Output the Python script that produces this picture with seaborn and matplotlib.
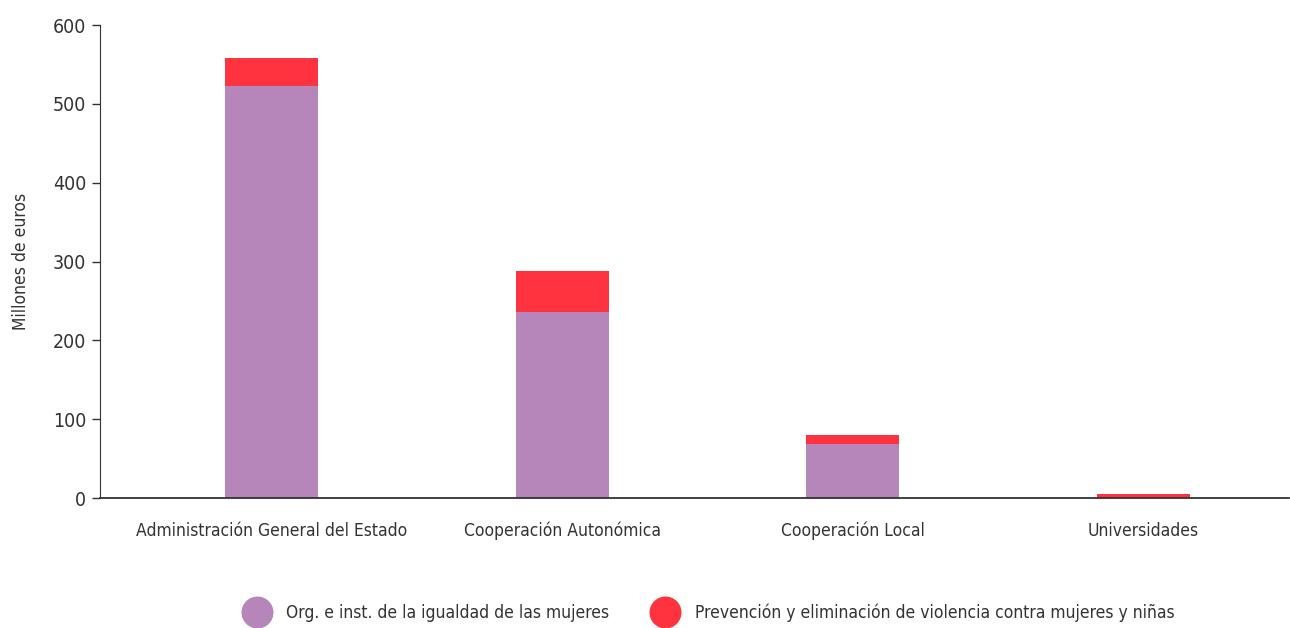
import pandas as pd
import numpy as np
import matplotlib.pyplot as plt
import seaborn as sns
from matplotlib.lines import Line2D

categorias = ["Administración General del Estado", "Cooperación Autonómica",
              "Cooperación Local", "Universidades"]
igualdad = [523, 236, 69, 0.5]
violencia = [35, 52, 11, 5]

series = ["Org. e inst. de la igualdad de las mujeres",
          "Prevención y eliminación de violencia contra mujeres y niñas"]
colores = ["#B685BA", "#FF323F"]

df = pd.DataFrame({
    "Categoria": categorias,
    "Igualdad": igualdad,
    "Violencia": violencia,
})
df["Total"] = df["Igualdad"] + df["Violencia"]

sns.set_style("white")
plt.rcParams["font.family"] = ["DejaVu Sans"]
plt.rcParams["font.stretch"] = "condensed"
plt.rcParams["text.color"] = "#333333"
plt.rcParams["axes.labelcolor"] = "#333333"
plt.rcParams["xtick.color"] = "#333333"
plt.rcParams["ytick.color"] = "#333333"

fig, ax = plt.subplots(figsize=(12.9, 6.28), dpi=100)
fig.subplots_adjust(left=0.0775, right=0.999, top=0.96, bottom=0.207)

sns.barplot(data=df, x="Categoria", y="Total", color=colores[1],
            width=0.32, saturation=1, linewidth=0, ax=ax)
sns.barplot(data=df, x="Categoria", y="Igualdad", color=colores[0],
            width=0.32, saturation=1, linewidth=0, ax=ax)

ax.set_ylim(0, 600)
ax.set_yticks([0, 100, 200, 300, 400, 500, 600])
ax.set_xlim(-0.59, 3.5)
ax.set_xlabel("")
ax.set_ylabel("Millones de euros", fontsize=12.5, labelpad=16)
ax.tick_params(axis="y", labelsize=14, length=6, width=1, color="#333333", pad=4, left=True)
ax.tick_params(axis="x", labelsize=12.5, length=0, pad=17)

sns.despine(ax=ax)
ax.spines["left"].set_color("#333333")
ax.spines["bottom"].set_color("#333333")
ax.spines["bottom"].set_linewidth(1.3)

handles = [Line2D([0], [0], marker="o", linestyle="", markersize=22,
                  markerfacecolor=c, markeredgecolor=c) for c in colores]
fig.legend(handles, series, loc="lower center", bbox_to_anchor=(0.548, -0.015),
           ncol=2, frameon=False, fontsize=12.5, handletextpad=0.7,
           columnspacing=2.2)

fig.savefig("out.png", dpi=100)
